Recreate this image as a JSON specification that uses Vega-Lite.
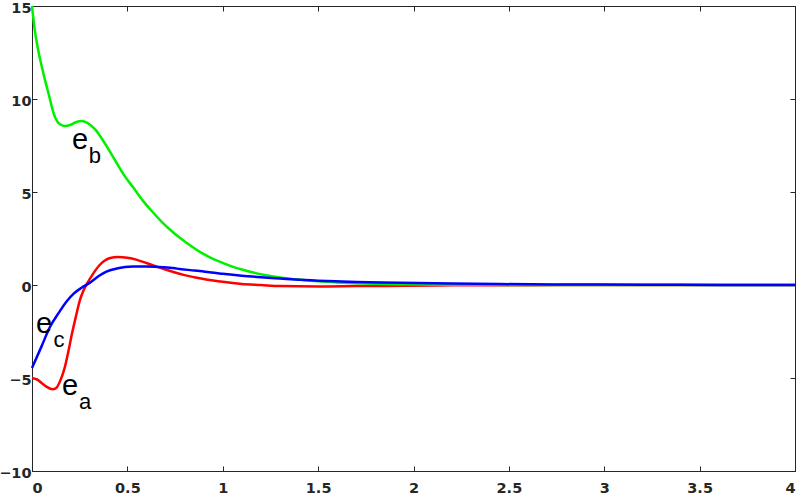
{
  "$schema": "https://vega.github.io/schema/vega-lite/v6.json",
  "autosize": {"type": "none"},
  "width": 763,
  "height": 465,
  "padding": {"left": 32, "top": 6, "right": 5, "bottom": 27},
  "background": "white",
  "config": {
    "view": {"stroke": "#262626", "strokeWidth": 1},
    "axis": {
      "grid": false,
      "domainColor": "#262626",
      "tickColor": "#262626",
      "labelColor": "#262626",
      "labelFont": "DejaVu Sans",
      "labelFontWeight": "bold",
      "labelFontSize": 14.5,
      "title": null,
      "tickSize": -5,
      "labelPadding": 6
    }
  },
  "datasets": {
    "curves": [
      {"series": "a", "t": 0, "v": -5.0},
      {"series": "a", "t": 0.03, "v": -5.1},
      {"series": "a", "t": 0.06, "v": -5.35},
      {"series": "a", "t": 0.09, "v": -5.55},
      {"series": "a", "t": 0.11, "v": -5.6},
      {"series": "a", "t": 0.13, "v": -5.5},
      {"series": "a", "t": 0.15, "v": -5.1},
      {"series": "a", "t": 0.17, "v": -4.5},
      {"series": "a", "t": 0.19, "v": -3.6},
      {"series": "a", "t": 0.21, "v": -2.6},
      {"series": "a", "t": 0.23, "v": -1.7},
      {"series": "a", "t": 0.25, "v": -0.85},
      {"series": "a", "t": 0.27, "v": -0.3},
      {"series": "a", "t": 0.29, "v": 0.1},
      {"series": "a", "t": 0.32, "v": 0.6},
      {"series": "a", "t": 0.35, "v": 1.02},
      {"series": "a", "t": 0.38, "v": 1.3},
      {"series": "a", "t": 0.41, "v": 1.45},
      {"series": "a", "t": 0.45, "v": 1.5},
      {"series": "a", "t": 0.5, "v": 1.46},
      {"series": "a", "t": 0.55, "v": 1.35},
      {"series": "a", "t": 0.6, "v": 1.18},
      {"series": "a", "t": 0.65, "v": 1.0},
      {"series": "a", "t": 0.7, "v": 0.83},
      {"series": "a", "t": 0.75, "v": 0.67},
      {"series": "a", "t": 0.8, "v": 0.53},
      {"series": "a", "t": 0.85, "v": 0.42},
      {"series": "a", "t": 0.9, "v": 0.32},
      {"series": "a", "t": 0.95, "v": 0.24},
      {"series": "a", "t": 1.0, "v": 0.17},
      {"series": "a", "t": 1.1, "v": 0.06},
      {"series": "a", "t": 1.2, "v": 0.0},
      {"series": "a", "t": 1.3, "v": -0.06},
      {"series": "a", "t": 1.5, "v": -0.08},
      {"series": "a", "t": 1.7, "v": -0.06},
      {"series": "a", "t": 1.95, "v": -0.04},
      {"series": "a", "t": 2.2, "v": -0.02},
      {"series": "a", "t": 2.6, "v": -0.01},
      {"series": "a", "t": 3.0, "v": 0},
      {"series": "a", "t": 4.0, "v": 0},
      {"series": "b", "t": 0, "v": 15},
      {"series": "b", "t": 0.016, "v": 13.6},
      {"series": "b", "t": 0.033, "v": 12.6},
      {"series": "b", "t": 0.05, "v": 11.8},
      {"series": "b", "t": 0.065, "v": 11.15},
      {"series": "b", "t": 0.08, "v": 10.55},
      {"series": "b", "t": 0.095, "v": 9.95},
      {"series": "b", "t": 0.11, "v": 9.35},
      {"series": "b", "t": 0.125, "v": 8.92},
      {"series": "b", "t": 0.145, "v": 8.65},
      {"series": "b", "t": 0.17, "v": 8.55},
      {"series": "b", "t": 0.2, "v": 8.6},
      {"series": "b", "t": 0.23, "v": 8.75},
      {"series": "b", "t": 0.26, "v": 8.82},
      {"series": "b", "t": 0.29, "v": 8.72},
      {"series": "b", "t": 0.33, "v": 8.38},
      {"series": "b", "t": 0.38, "v": 7.65},
      {"series": "b", "t": 0.43, "v": 6.8},
      {"series": "b", "t": 0.48, "v": 5.95},
      {"series": "b", "t": 0.53, "v": 5.25},
      {"series": "b", "t": 0.58, "v": 4.55},
      {"series": "b", "t": 0.63, "v": 3.95},
      {"series": "b", "t": 0.68, "v": 3.4},
      {"series": "b", "t": 0.73, "v": 2.92},
      {"series": "b", "t": 0.78, "v": 2.5},
      {"series": "b", "t": 0.83, "v": 2.12},
      {"series": "b", "t": 0.88, "v": 1.78},
      {"series": "b", "t": 0.93, "v": 1.5},
      {"series": "b", "t": 0.98, "v": 1.27},
      {"series": "b", "t": 1.04, "v": 1.03},
      {"series": "b", "t": 1.1, "v": 0.83},
      {"series": "b", "t": 1.16, "v": 0.67},
      {"series": "b", "t": 1.22, "v": 0.54},
      {"series": "b", "t": 1.3, "v": 0.41},
      {"series": "b", "t": 1.4, "v": 0.29},
      {"series": "b", "t": 1.5, "v": 0.2},
      {"series": "b", "t": 1.6, "v": 0.14},
      {"series": "b", "t": 1.75, "v": 0.08},
      {"series": "b", "t": 1.9, "v": 0.045},
      {"series": "b", "t": 2.1, "v": 0.02},
      {"series": "b", "t": 2.4, "v": 0.007},
      {"series": "b", "t": 2.8, "v": 0},
      {"series": "b", "t": 4.0, "v": 0},
      {"series": "c", "t": 0, "v": -4.46},
      {"series": "c", "t": 0.05, "v": -3.3},
      {"series": "c", "t": 0.094, "v": -2.26},
      {"series": "c", "t": 0.14, "v": -1.5},
      {"series": "c", "t": 0.18, "v": -0.9},
      {"series": "c", "t": 0.22, "v": -0.45},
      {"series": "c", "t": 0.26, "v": -0.15},
      {"series": "c", "t": 0.3, "v": 0.1},
      {"series": "c", "t": 0.35, "v": 0.48},
      {"series": "c", "t": 0.39, "v": 0.72},
      {"series": "c", "t": 0.45, "v": 0.9},
      {"series": "c", "t": 0.53, "v": 0.99},
      {"series": "c", "t": 0.6, "v": 1.0},
      {"series": "c", "t": 0.69, "v": 0.96},
      {"series": "c", "t": 0.76, "v": 0.88},
      {"series": "c", "t": 0.83, "v": 0.8},
      {"series": "c", "t": 0.88, "v": 0.75},
      {"series": "c", "t": 0.93, "v": 0.68},
      {"series": "c", "t": 1.0, "v": 0.6},
      {"series": "c", "t": 1.1, "v": 0.5},
      {"series": "c", "t": 1.2, "v": 0.42},
      {"series": "c", "t": 1.3, "v": 0.35},
      {"series": "c", "t": 1.4, "v": 0.28},
      {"series": "c", "t": 1.55, "v": 0.21},
      {"series": "c", "t": 1.7, "v": 0.16},
      {"series": "c", "t": 1.93, "v": 0.12},
      {"series": "c", "t": 2.2, "v": 0.08},
      {"series": "c", "t": 2.45, "v": 0.05},
      {"series": "c", "t": 2.8, "v": 0.03},
      {"series": "c", "t": 3.2, "v": 0.015},
      {"series": "c", "t": 3.6, "v": 0.005},
      {"series": "c", "t": 4.0, "v": 0}
    ],
    "mainLabels": [
      {"text": "e", "t": 0.252, "v": 7.8},
      {"text": "e", "t": 0.063, "v": -2.1},
      {"text": "e", "t": 0.2, "v": -5.43}
    ],
    "subLabels": [
      {"text": "b", "t": 0.33, "v": 6.94},
      {"text": "c", "t": 0.142, "v": -2.96},
      {"text": "a", "t": 0.278, "v": -6.3}
    ]
  },
  "resolve": {"axis": {"x": "independent", "y": "independent"}},
  "layer": [
    {
      "data": {"name": "curves"},
      "mark": {"type": "line", "strokeWidth": 2.5, "interpolate": "monotone"},
      "encoding": {
        "x": {"field": "t", "type": "quantitative", "scale": {"domain": [0, 4], "nice": false, "zero": false},
              "axis": {"values": [0, 0.5, 1, 1.5, 2, 2.5, 3, 3.5, 4], "orient": "bottom", "format": "~g", "labelPadding": 15}},
        "y": {"field": "v", "type": "quantitative", "scale": {"domain": [-10, 15], "nice": false, "zero": false},
              "axis": {"values": [-10, -5, 0, 5, 10, 15], "orient": "left", "labelOffset": 2}},
        "color": {"field": "series", "type": "nominal", "legend": null,
                  "scale": {"domain": ["a", "b", "c"], "range": ["#FF0000", "#00F000", "#0000FF"]}}
      }
    },
    {
      "data": {"name": "curves"},
      "mark": {"type": "line", "opacity": 0},
      "encoding": {
        "x": {"field": "t", "type": "quantitative",
              "axis": {"values": [0, 0.5, 1, 1.5, 2, 2.5, 3, 3.5, 4], "orient": "top", "labels": false}},
        "y": {"field": "v", "type": "quantitative",
              "axis": {"values": [-10, -5, 0, 5, 10, 15], "orient": "right", "labels": false}},
        "detail": {"field": "series"}
      }
    },
    {
      "data": {"name": "mainLabels"},
      "mark": {"type": "text", "font": "Liberation Sans", "fontSize": 29, "color": "black", "align": "center", "baseline": "middle", "dy": 0},
      "encoding": {
        "x": {"field": "t", "type": "quantitative", "axis": null},
        "y": {"field": "v", "type": "quantitative", "axis": null},
        "text": {"field": "text"}
      }
    },
    {
      "data": {"name": "subLabels"},
      "mark": {"type": "text", "font": "Liberation Sans", "fontSize": 22, "color": "black", "align": "center", "baseline": "middle", "dy": 0},
      "encoding": {
        "x": {"field": "t", "type": "quantitative", "axis": null},
        "y": {"field": "v", "type": "quantitative", "axis": null},
        "text": {"field": "text"}
      }
    }
  ]
}
